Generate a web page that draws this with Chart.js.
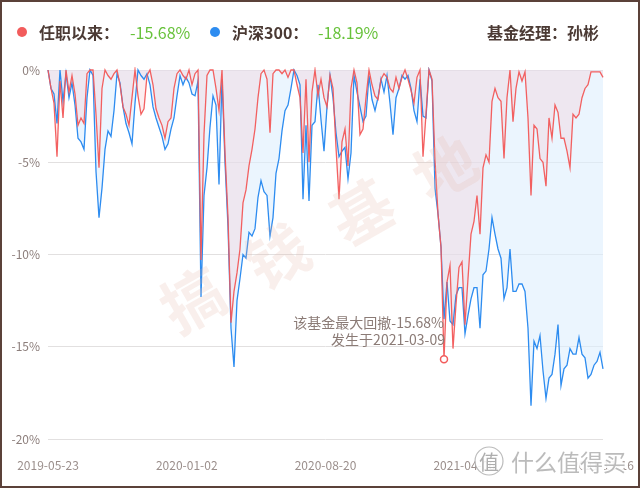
<!DOCTYPE html>
<html>
<head>
<meta charset="utf-8">
<script src="https://cdn.jsdelivr.net/npm/chart.js@4.4.0/dist/chart.umd.min.js"></script>
<style>
  html, body { margin: 0; padding: 0; background: #fff; }
  #wrap { position: relative; width: 640px; height: 488px; overflow: hidden; font-family: "Noto Sans CJK SC", "Noto Sans", sans-serif; }
  #frame { position: absolute; left: 0; top: 0; width: 640px; height: 488px; box-sizing: border-box; border: 2px solid #5b4139; pointer-events: none; }
  canvas { position: absolute; left: 0; top: 0; }
  .hd { position: absolute; top: 21px; font-size: 16px; line-height: 22px; white-space: nowrap; }
  .name { color: #4b3a34; font-weight: bold; }
  .val { color: #67c23a; }
  .dot { position: absolute; top: 27px; width: 10px; height: 10px; border-radius: 50%; }
</style>
</head>
<body>
<div id="wrap">
  <canvas id="ddChart" width="640" height="488"></canvas>
  <span class="dot" style="left:17px;background:#f25c5c"></span>
  <span class="hd name" style="left:39px">任职以来：</span>
  <span class="hd val" id="fundVal" style="left:130px"></span>
  <span class="dot" style="left:210px;background:#2d8cf0"></span>
  <span class="hd name" style="left:232px">沪深300：</span>
  <span class="hd val" id="idxVal" style="left:318px"></span>
  <span class="hd name" style="left:487px">基金经理：孙彬</span>
  <div id="frame"></div>
</div>
<script>
// x axis tick labels (trading days, evenly split)
const tickLabels = ['2019-05-23', '2020-01-02', '2020-08-20', '2021-04-06', '2021-11-16'];
const yTicks = [0, -5, -10, -15, -20];
const maxDDDate = '2021-03-09';

// drawdown of the fund since manager took over (%)
const fundDD = [
  0, -1.0, -1.8, -4.7, -0.6, -2.6, 0, -1.2, -0.3, -1.3,
  -3.0, -2.6, -2.9, -0.2, 0, 0, -2.4, -5.3, -1.0, 0,
  -0.3, -0.5, -0.2, 0, -0.8, -2.0, -2.4, -3.0, -1.5, 0,
  -1.4, -2.4, -2.1, -0.3, 0, -0.8, -2.1, -2.6, -3.0, -3.7,
  -2.8, -2.6, -1.0, -0.2, 0, -0.3, -0.5, 0, -0.8, -0.2,
  0, -10.3, -3.5, -0.3, 0, 0, -1.0, -2.2, 0, -4.5,
  -8.0, -13.7, -12.0, -11.0, -9.7, -7.2, -6.5, -5.2, -4.3, -3.2,
  -1.5, -0.2, 0, -0.5, -3.4, -0.2, 0, 0, -0.2, 0,
  -0.4, 0, 0, -0.8, -1.5, -4.5, -0.5, -5.0, -1.2, 0,
  -1.4, -0.5, -1.5, -2.0, -0.3, -1.0, -4.2, -7.0, -3.9, -3.2,
  -5.2, -1.0, 0, -0.7, -3.5, -3.2, -1.5, 0, -0.8, -1.4,
  -1.6, -0.5, -0.2, -0.4, -1.0, -1.2, -0.4, -1.0, -0.4, 0,
  -0.5, -1.1, -1.8, -0.4, 0, -4.7, -2.4, 0, -0.5, -4.9,
  -7.8, -9.6, -15.68, -11.5, -10.6, -15.1, -12.7, -10.7, -10.4, -13.8,
  -11.3, -8.9, -8.2, -6.8, -8.9, -5.3, -4.6, -5.0, -1.7, -1.0,
  -1.5, -1.7, -4.8, -1.5, 0, -2.8, -1.0, -0.1, -0.6, -0.1,
  -2.6, -6.8, -3.0, -3.2, -4.8, -5.0, -6.3, -2.6, -3.7, -1.9,
  -2.3, -3.7, -3.7, -4.4, -5.3, -2.4, -2.6, -2.4, -1.5, -1.0,
  -0.8, -0.1, -0.1, -0.1, -0.1, -0.4
];

// drawdown of CSI 300 over the same period (%)
const hs300DD = [
  0, -1.0, -1.3, -2.9, 0, -1.7, -0.2, -1.5, -0.7, -1.9,
  -3.7, -3.9, -4.3, -1.5, 0, -0.3, -5.5, -8.0, -6.4, -4.3,
  -3.3, -3.6, -2.2, -0.2, -0.7, -2.0, -2.9, -3.4, -4.0, -1.8,
  0, -0.3, -0.5, -0.2, -0.8, -2.0, -2.6, -3.1, -3.6, -4.3,
  -4.0, -3.2, -2.6, -1.4, -0.3, -0.8, -0.4, -0.7, -1.3, -1.4,
  -0.6, -12.3, -6.8, -5.3, -3.1, -1.4, -1.9, -6.2, -0.5, -5.0,
  -8.5, -14.0, -16.1, -12.5, -11.3, -10.0, -10.2, -8.8, -9.0, -8.6,
  -6.9, -6.0, -6.6, -6.8, -9.0, -8.0, -5.6, -4.8, -3.3, -2.2,
  -1.9, -1.0, 0, -0.3, -0.8, -7.0, -3.0, -7.1, -3.0, -2.8,
  -0.8, -2.7, -4.4, -2.0, -0.3, -1.5, -3.4, -4.7, -4.4, -4.2,
  -5.9, -4.5, -0.3, -1.2, -2.0, -2.8, -2.5, -0.3, -1.6, -2.2,
  -1.5, -0.5, -1.2, -0.3, -1.8, -3.5, -1.5, -1.0, -0.3, -0.5,
  -0.3, -1.0, -2.2, -2.8, -0.5, -2.5, -2.6, 0, -0.6, -6.4,
  -7.8, -9.6, -13.5, -11.5, -13.6, -13.8, -12.2, -11.8, -11.8, -14.3,
  -13.3, -12.4, -11.8, -11.8, -14.0, -11.1, -10.9, -9.7, -8.0, -8.9,
  -9.7, -10.2, -12.4, -11.8, -9.7, -12.0, -12.0, -11.6, -11.6, -12.0,
  -14.0, -18.19, -14.7, -15.1, -14.4, -16.3, -17.8, -16.7, -16.5, -15.4,
  -13.8, -17.1, -16.2, -16.0, -15.1, -15.4, -15.4, -14.5, -15.4, -15.6,
  -16.7, -16.5, -16.0, -15.8, -15.3, -16.2
];

const FONT = '"Noto Sans CJK SC", "Noto Sans", sans-serif';
const lastIdx = fundDD.length - 1;
const fundMin = Math.min(...fundDD);
const maxIdx = fundDD.indexOf(fundMin);
const idxMin = Math.min(...hs300DD);

document.getElementById('fundVal').textContent = fundMin.toFixed(2) + '%';
document.getElementById('idxVal').textContent = idxMin.toFixed(2) + '%';

function toPoints(arr) {
	return arr.map((v, i) => ({ x: i, y: v }));
}

// note next to the max drawdown point + page watermarks
const ddNote = {
	id: 'ddNote',
	afterDatasetsDraw(chart) {
		const { ctx, scales: { x, y } } = chart;
		const px = x.getPixelForValue(maxIdx);
		const py = y.getPixelForValue(fundMin);
		ctx.save();
		ctx.font = '14px ' + FONT;
		ctx.fillStyle = '#8b7b76';
		ctx.textAlign = 'right';
		ctx.textBaseline = 'middle';
		ctx.fillText('该基金最大回撤' + fundMin.toFixed(2) + '%', px, py - 37);
		ctx.fillText('发生于' + maxDDDate, px + 1, py - 20);
		ctx.restore();
	},
	afterDraw(chart) {
		const ctx = chart.ctx;
		ctx.save();
		ctx.fillStyle = 'rgba(228, 180, 168, 0.22)';
		ctx.font = 'bold 62px ' + FONT;
		ctx.textAlign = 'center';
		ctx.textBaseline = 'middle';
		[['搞', 193, 300], ['钱', 277, 256], ['基', 362, 212], ['地', 445, 168]].forEach(c => {
			ctx.save();
			ctx.translate(c[1], c[2]);
			ctx.rotate(-0.52);
			ctx.fillText(c[0], 0, 0);
			ctx.restore();
		});
		// site logo bottom right
		ctx.strokeStyle = 'rgba(255,255,255,0.9)';
		ctx.lineWidth = 4;
		ctx.font = '23px ' + FONT;
		ctx.textAlign = 'left';
		ctx.strokeText('什么值得买', 511, 462);
		ctx.fillStyle = 'rgba(170,170,170,0.8)';
		ctx.fillText('什么值得买', 511, 462);
		ctx.beginPath();
		ctx.arc(489, 461, 14, 0, Math.PI * 2);
		ctx.fillStyle = 'rgba(255,255,255,0.85)';
		ctx.fill();
		ctx.strokeStyle = 'rgba(170,170,170,0.8)';
		ctx.lineWidth = 1.2;
		ctx.stroke();
		ctx.font = '20px ' + FONT;
		ctx.textAlign = 'center';
		ctx.fillStyle = 'rgba(160,160,160,0.85)';
		ctx.fillText('值', 489, 462);
		ctx.restore();
	}
};

new Chart(document.getElementById('ddChart'), {
	type: 'line',
	data: {
		datasets: [
			{
				label: '任职以来',
				data: toPoints(fundDD),
				borderColor: 'rgba(242, 88, 88, 0.95)',
				backgroundColor: 'rgba(244, 198, 204, 0.3)',
				borderWidth: 1.3,
				pointRadius: 0,
				fill: 'origin',
				clip: 3,
				order: 0
			},
			{
				label: '沪深300',
				data: toPoints(hs300DD),
				borderColor: '#2d8cf0',
				backgroundColor: 'rgba(222, 238, 253, 0.6)',
				borderWidth: 1.3,
				pointRadius: 0,
				fill: 'origin',
				clip: 3,
				order: 1
			},
			{
				label: 'maxDD',
				data: [{ x: maxIdx, y: fundMin }],
				showLine: false,
				fill: false,
				pointRadius: 3.5,
				pointBackgroundColor: '#fff',
				pointBorderColor: '#f25c5c',
				pointBorderWidth: 1.5,
				clip: false,
				order: -1
			}
		]
	},
	options: {
		responsive: false,
		animation: false,
		layout: { padding: { left: 0, right: 37, top: 70, bottom: 0 } },
		plugins: {
			legend: { display: false },
			tooltip: { enabled: false },
			filler: { drawTime: 'beforeDatasetsDraw' }
		},
		scales: {
			x: {
				type: 'linear',
				min: 0,
				max: lastIdx,
				grid: { display: false },
				border: { display: false },
				afterBuildTicks: s => {
					s.ticks = tickLabels.map((t, k) => ({ value: k * lastIdx / (tickLabels.length - 1) }));
				},
				ticks: {
					autoSkip: false,
					maxRotation: 0,
					padding: 11,
					color: '#9b8f8c',
					font: { size: 12, family: FONT },
					callback: (v, i) => tickLabels[i]
				},
				afterFit: s => {
					s.height = 49;
					s.paddingLeft = 0;
					s.paddingRight = 0;
				}
			},
			y: {
				min: -20,
				max: 0,
				afterBuildTicks: s => {
					s.ticks = yTicks.map(v => ({ value: v }));
				},
				grid: { color: '#e2e0e0', drawTicks: false },
				border: { display: false },
				ticks: {
					padding: 8,
					color: '#8c7e7b',
					font: { size: 12, family: FONT },
					callback: v => v + '%'
				},
				afterFit: s => { s.width = 48; }
			}
		}
	},
	plugins: [ddNote]
});
</script>
</body>
</html>
